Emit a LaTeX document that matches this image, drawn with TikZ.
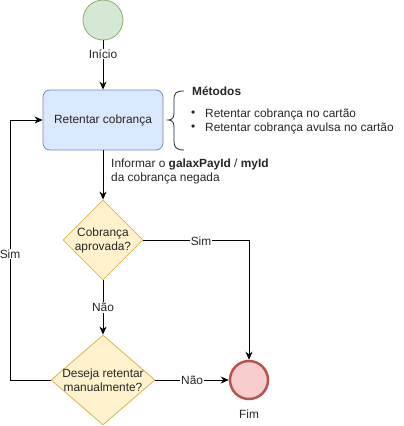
\documentclass[tikz,border=0pt]{standalone}
\usepackage{fontspec}
\setmainfont{Liberation Sans}
\usetikzlibrary{shapes.geometric,arrows.meta}
\definecolor{startfill}{HTML}{D5E8D4}
\definecolor{startline}{HTML}{82B366}
\definecolor{boxfill}{HTML}{DAE8FC}
\definecolor{boxline}{HTML}{6C8EBF}
\definecolor{diafill}{HTML}{FFF2CC}
\definecolor{dialine}{HTML}{D6B656}
\definecolor{endfill}{HTML}{F8CECC}
\definecolor{endline}{HTML}{B85450}
\begin{document}
\begin{tikzpicture}[x=1pt,y=-1pt,
  every node/.style={font=\fontsize{11.9}{14}\selectfont, text=black!85},
  startev/.style={circle, draw=startline, fill=startfill, minimum size=40pt, inner sep=0pt, line width=0.8pt},
  endev/.style={circle, draw=endline, fill=endfill, minimum size=38pt, inner sep=0pt, line width=2.5pt},
  taskbox/.style={rectangle, rounded corners=7pt, draw=boxline, fill=boxfill, minimum width=120pt, minimum height=60pt, inner sep=0pt, line width=0.8pt},
  decision/.style={diamond, draw=dialine, fill=diafill, inner sep=0pt, line width=0.8pt},
  conn/.style={draw=black, line width=0.9pt, -{Stealth[length=8pt,width=7pt,inset=2.5pt]}},
  elabel/.style={fill=white, inner sep=1pt},
  plain/.style={inner sep=0pt, anchor=west, align=left}
]
\useasboundingbox (0,0) rectangle (404,426);

\node[startev] (start) at (103,20) {};
\node[taskbox] (task) at (103,120) {Retentar cobrança};
\node[decision, minimum width=80pt, minimum height=80pt,
  label={[align=center, font=\fontsize{11.9}{14}\selectfont, text=black!85]center:Cobrança\\aprovada?}] (d1) at (103,240) {};
\node[decision, minimum width=104pt, minimum height=90pt,
  label={[align=center, font=\fontsize{11.9}{14}\selectfont, text=black!85]center:Deseja retentar\\manualmente?}] (d2) at (103,380) {};
\node[endev] (fim) at (249,380) {};

\coordinate (loopA) at (10,380);
\coordinate (loopB) at (10,120);
\coordinate (simC) at (249,240);

% connectors
\draw[conn] (start) -- (task);
\node[elabel] (inicio) at (103,54) {Início};
\draw[conn] (task) -- (d1);
\draw[conn] (d1) -- node[elabel, pos=0.5] (nao1) {Não} (d2);
\draw[conn] (d1.east) -- (simC) -- (fim.north);
\node[elabel] (sim1) at (201,241) {Sim};
\draw[conn] (d2.east) -- node[elabel, pos=0.5] (nao2) {Não} (fim.west);
\draw[conn] (d2.west) -- (loopA) -- (loopB) -- (task.west);
\node[elabel] (sim2) at (10,254) {Sim};

\node (fimlabel) at (249,414) {Fim};

% note on the task arrow
\node[plain] (info) at (111,171) {Informar o \textbf{galaxPayId} / \textbf{myId}\\da cobrança negada};

% brace
\draw[line width=0.8pt, draw=black!85] (184,91) .. controls (176,91) and (174,93) .. (174,100) -- (174,113)
  .. controls (174,118) and (172,120) .. (168,120)
  .. controls (172,120) and (174,122) .. (174,127) -- (174,141)
  .. controls (174,147) and (176,150) .. (184,150);

\node[plain] (metodos) at (192,91) {\textbf{Métodos}};
\node[plain] (b1) at (191,114) {•};
\node[plain] (b2) at (191,128) {•};
\node[plain] (m1) at (205,114) {Retentar cobrança no cartão};
\node[plain] (m2) at (205,128) {Retentar cobrança avulsa no cartão};
\end{tikzpicture}
\end{document}
